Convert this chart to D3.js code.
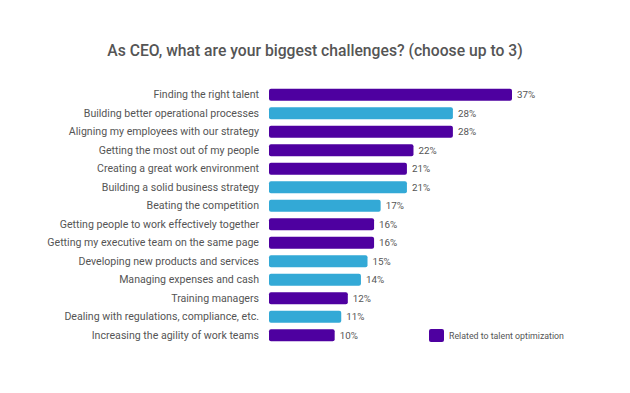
<!DOCTYPE html>
<html>
<head>
<meta charset="utf-8">
<script src="https://cdn.jsdelivr.net/npm/d3@7"></script>
<style>
  body { margin: 0; background: #fff; }
  text { font-family: Roboto, "Noto Sans", sans-serif; }
</style>
</head>
<body>
<div id="chart"></div>
<script>
const categories = [
  'Finding the right talent',
  'Building better operational processes',
  'Aligning my employees with our strategy',
  'Getting the most out of my people',
  'Creating a great work environment',
  'Building a solid business strategy',
  'Beating the competition',
  'Getting people to work effectively together',
  'Getting my executive team on the same page',
  'Developing new products and services',
  'Managing expenses and cash',
  'Training managers',
  'Dealing with regulations, compliance, etc.',
  'Increasing the agility of work teams'
]
const values = [37, 28, 28, 22, 21, 21, 17, 16, 16, 15, 14, 12, 11, 10]
const talent = [true, false, true, true, true, false, false, true, true, false, false, true, false, true]

const width = 630
const height = 393
const purple = '#4e00a0'
const blue = '#33a9d6'

const svg = d3.select('#chart')
  .append('svg')
  .attr('width', width)
  .attr('height', height)

svg.append('text')
  .attr('x', 315)
  .attr('y', 56)
  .attr('text-anchor', 'middle')
  .attr('font-size', 15.7)
  .attr('font-weight', 500)
  .attr('fill', '#555')
  .text('As CEO, what are your biggest challenges? (choose up to 3)')

const x = d3.scaleLinear().domain([0, 37]).range([269, 512])
const y = d3.scaleBand().domain(categories).range([85, 345]).paddingInner(0.35).paddingOuter(0.2)

const row = svg.selectAll('g.row')
  .data(categories)
  .enter()
  .append('g')
  .attr('class', 'row')

row.append('rect')
  .attr('x', x(0))
  .attr('y', (d) => y(d))
  .attr('width', (d, i) => x(values[i]) - x(0))
  .attr('height', y.bandwidth())
  .attr('rx', 2)
  .attr('fill', (d, i) => talent[i] ? purple : blue)

row.append('text')
  .attr('x', 259)
  .attr('y', (d) => y(d) + y.bandwidth() / 2)
  .attr('dy', '0.35em')
  .attr('text-anchor', 'end')
  .attr('font-size', 10.6)
  .attr('fill', '#555')
  .text((d) => d)

row.append('text')
  .attr('x', (d, i) => x(values[i]) + 5)
  .attr('y', (d) => y(d) + y.bandwidth() / 2)
  .attr('dy', '0.35em')
  .attr('font-size', 9.8)
  .attr('fill', '#555')
  .text((d, i) => values[i] + '%')

// legend
const legend = svg.append('g').attr('transform', 'translate(429, 329)')
legend.append('rect')
  .attr('width', 15)
  .attr('height', 13)
  .attr('rx', 2)
  .attr('fill', purple)
legend.append('text')
  .attr('x', 20)
  .attr('y', 6.5)
  .attr('dy', '0.35em')
  .attr('font-size', 8.8)
  .attr('fill', '#555')
  .text('Related to talent optimization')
</script>
</body>
</html>
